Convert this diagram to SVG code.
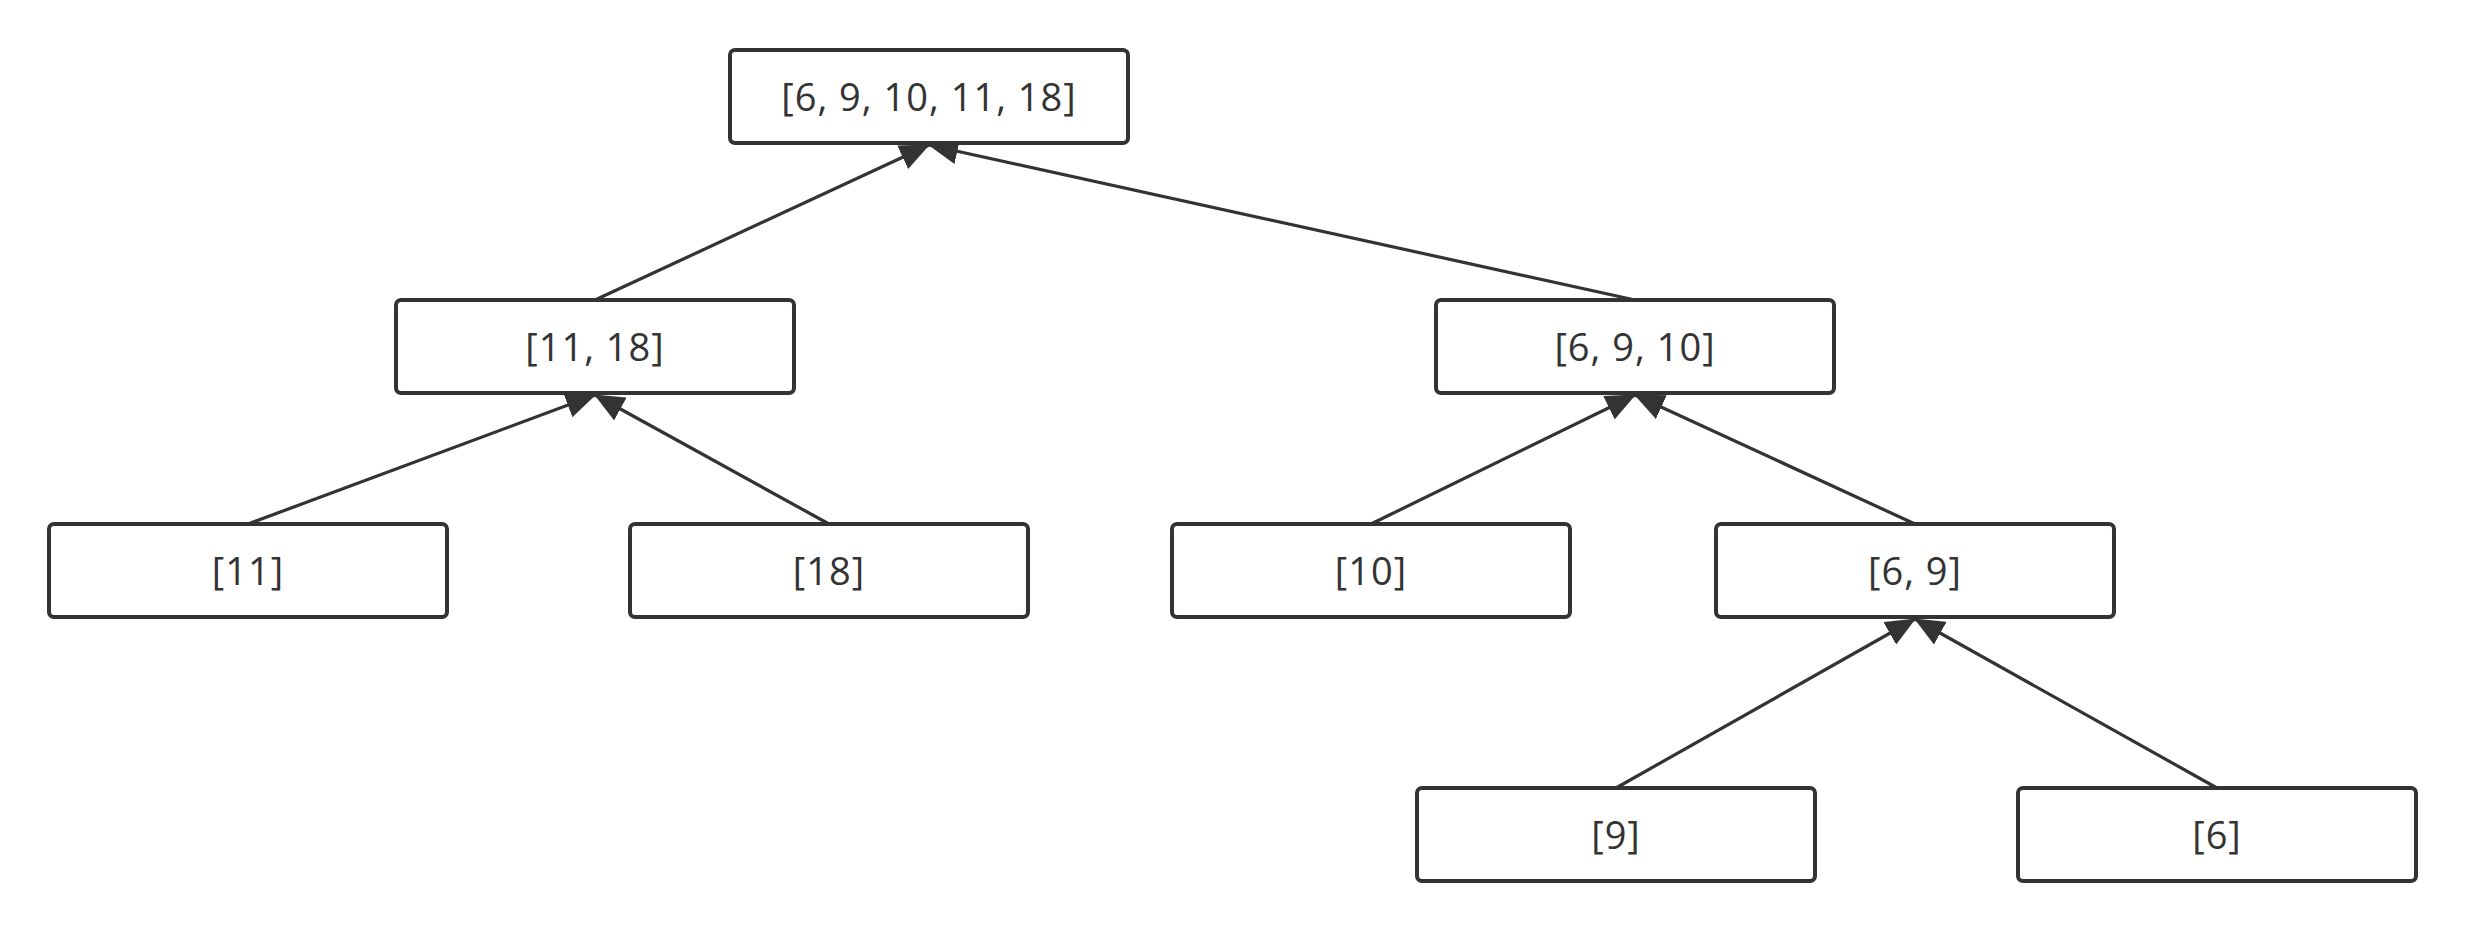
<svg xmlns="http://www.w3.org/2000/svg" width="2466" height="932" viewBox="0 0 2466 932">
  <style>
    .box { fill: #ffffff; stroke: #333333; stroke-width: 4; }
    .label { font-family: "Open Sans", "Noto Sans", sans-serif; font-size: 38px; fill: #333333; text-anchor: middle; letter-spacing: 1px; }
    .edge { stroke: #333333; stroke-width: 3.2; fill: none; marker-end: url(#arrow); }
  </style>
  <defs>
    <marker id="arrow" markerUnits="userSpaceOnUse" markerWidth="30" markerHeight="26" refX="29" refY="13" orient="auto">
      <path d="M0,0 L30,13 L0,26 z" fill="#333333"/>
    </marker>
  </defs>
  <rect width="2466" height="932" fill="#ffffff"/>

  <!-- merge arrows: each child points up to its parent -->
  <g id="connectors">
    <line class="edge" x1="595" y1="300" x2="929" y2="145"/>
    <line class="edge" x1="1635" y1="300" x2="929" y2="145"/>
    <line class="edge" x1="248" y1="524" x2="595" y2="395"/>
    <line class="edge" x1="829" y1="524" x2="595" y2="395"/>
    <line class="edge" x1="1371" y1="524" x2="1635" y2="395"/>
    <line class="edge" x1="1915" y1="524" x2="1635" y2="395"/>
    <line class="edge" x1="1616" y1="788" x2="1915" y2="619"/>
    <line class="edge" x1="2217" y1="788" x2="1915" y2="619"/>
  </g>

  <g id="n-root">
    <rect class="box" x="730" y="50" width="398" height="93" rx="5"/>
    <text class="label" x="929" y="111">[6, 9, 10, 11, 18]</text>
  </g>
  <g id="n-11-18">
    <rect class="box" x="396" y="300" width="398" height="93" rx="5"/>
    <text class="label" x="595" y="361">[11, 18]</text>
  </g>
  <g id="n-6-9-10">
    <rect class="box" x="1436" y="300" width="398" height="93" rx="5"/>
    <text class="label" x="1635" y="361">[6, 9, 10]</text>
  </g>
  <g id="n-11">
    <rect class="box" x="49" y="524" width="398" height="93" rx="5"/>
    <text class="label" x="248" y="585">[11]</text>
  </g>
  <g id="n-18">
    <rect class="box" x="630" y="524" width="398" height="93" rx="5"/>
    <text class="label" x="829" y="585">[18]</text>
  </g>
  <g id="n-10">
    <rect class="box" x="1172" y="524" width="398" height="93" rx="5"/>
    <text class="label" x="1371" y="585">[10]</text>
  </g>
  <g id="n-6-9">
    <rect class="box" x="1716" y="524" width="398" height="93" rx="5"/>
    <text class="label" x="1915" y="585">[6, 9]</text>
  </g>
  <g id="n-9">
    <rect class="box" x="1417" y="788" width="398" height="93" rx="5"/>
    <text class="label" x="1616" y="849">[9]</text>
  </g>
  <g id="n-6">
    <rect class="box" x="2018" y="788" width="398" height="93" rx="5"/>
    <text class="label" x="2217" y="849">[6]</text>
  </g>
</svg>
